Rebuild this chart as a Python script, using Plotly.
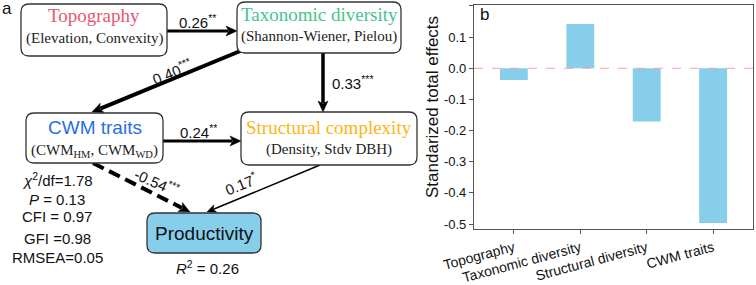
import plotly.graph_objects as go

# ---------------- data ----------------
# Panel b: standardized total effects
bar_categories = ["Topography", "Taxonomic diversity", "Structural diversity", "CWM traits"]
bar_values = [-0.038, 0.142, -0.171, -0.497]
y_tickvals = [0.2, 0.1, 0.0, -0.1, -0.2, -0.3, -0.4, -0.5]
y_ticktext = ["0.2", "0.1", "0.0", "-0.1", "-0.2", "-0.3", "-0.4", "-0.5"]

# Panel a: SEM path coefficients
path_from = ["Topography", "Taxonomic", "Taxonomic", "CWM", "CWM", "Structural"]
path_to = ["Taxonomic", "CWM", "Structural", "Structural", "Productivity", "Productivity"]
path_coef = [0.26, 0.40, 0.33, 0.24, -0.54, 0.17]
path_sig = ["**", "***", "***", "**", "***", "*"]

fit_labels = ["<i>χ</i><sup>2</sup>/df=1.78", "<i>P</i> = 0.13", "CFI = 0.97", "GFI =0.98", "RMSEA=0.05"]
r2_productivity = 0.26

W, H = 756, 285
SANS = "Liberation Sans, Arial, sans-serif"
SERIF = "Liberation Serif, Times New Roman, serif"


def px(x):
    return x / W


def py(y):
    return 1 - y / H


shapes = []
annotations = []

# ---------------- layout of diagram (pixel positions) ----------------
boxes = {
    "Topography": dict(x0=21, y0=4, x1=167, y1=56, title="Topography", tfont=SERIF, tcolor="#E8566F",
                       sub="(Elevation, Convexity)", ty=16, sy=39, fill="white"),
    "Taxonomic": dict(x0=237, y0=2, x1=401, y1=53, title="Taxonomic diversity", tfont=SERIF, tcolor="#45C48C",
                      sub="(Shannon-Wiener, Pielou)", ty=15, sy=37, fill="white"),
    "Structural": dict(x0=241, y0=112, x1=417, y1=165, title="Structural complexity", tfont=SERIF, tcolor="#FDB515",
                       sub="(Density, Stdv DBH)", ty=127, sy=149, fill="white"),
    "CWM": dict(x0=26, y0=113, x1=163, y1=163, title="CWM traits", tfont=SANS, tcolor="#2A6FE0",
                sub="(CWM<sub>HM</sub>, CWM<sub>WD</sub>)", ty=127, sy=151, fill="white"),
    "Productivity": dict(x0=147, y0=213, x1=261, y1=253, title="Productivity", tfont=SANS, tcolor="#111111",
                         sub=None, ty=233, sy=None, fill="#87CEEB"),
}

# arrow geometry: start, end, width, dash, label position, label angle, label anchor
arrow_geom = [
    dict(s=(167, 31), e=(237, 31), w=3, dash="solid", lp=(197, 21), la=0, xa="center"),
    dict(s=(250, 47), e=(92, 112), w=4, dash="solid", lp=(171, 71), la=-22, xa="center"),
    dict(s=(323, 53), e=(323, 112), w=3.5, dash="solid", lp=(330, 82), la=0, xa="left"),
    dict(s=(163, 141), e=(241, 141), w=3, dash="solid", lp=(198, 131), la=0, xa="center"),
    dict(s=(93, 163), e=(190, 212), w=4, dash="12px,6px", lp=(157, 181), la=24, xa="center"),
    dict(s=(320, 165), e=(207, 212), w=1.5, dash="solid", lp=(240, 183), la=-22, xa="center"),
]


def rounded_rect(x0, y0, x1, y1, r):
    pts = [
        ("M", [(x0 + r, y0)]),
        ("L", [(x1 - r, y0)]),
        ("Q", [(x1, y0), (x1, y0 + r)]),
        ("L", [(x1, y1 - r)]),
        ("Q", [(x1, y1), (x1 - r, y1)]),
        ("L", [(x0 + r, y1)]),
        ("Q", [(x0, y1), (x0, y1 - r)]),
        ("L", [(x0, y0 + r)]),
        ("Q", [(x0, y0), (x0 + r, y0)]),
    ]
    s = ""
    for cmd, ps in pts:
        s += cmd + " " + " ".join(f"{px(a):.5f},{py(b):.5f}" for a, b in ps) + " "
    return s + "Z"


# arrows (drawn first, boxes above)
for g, coef, sig in zip(arrow_geom, path_coef, path_sig):
    (x0, y0), (x1, y1) = g["s"], g["e"]
    dx, dy = x1 - x0, y1 - y0
    L = (dx * dx + dy * dy) ** 0.5
    ux, uy = dx / L, dy / L
    nx, ny = -uy, ux
    hl = 11 if g["w"] >= 3 else 9
    hw = 5 if g["w"] >= 3 else 4
    bx, by = x1 - ux * hl, y1 - uy * hl
    shapes.append(dict(type="line", xref="paper", yref="paper",
                       x0=px(x0), y0=py(y0), x1=px(bx + ux * 2), y1=py(by + uy * 2),
                       line=dict(color="black", width=g["w"], dash=g["dash"])))
    notch = (x1 - ux * hl * 0.75, y1 - uy * hl * 0.75)
    p = [(x1, y1), (bx + nx * hw, by + ny * hw), notch, (bx - nx * hw, by - ny * hw)]
    path = "M " + " L ".join(f"{px(a):.5f},{py(b):.5f}" for a, b in p) + " Z"
    shapes.append(dict(type="path", xref="paper", yref="paper", path=path,
                       fillcolor="black", line=dict(color="black", width=0.5)))
    annotations.append(dict(x=px(g["lp"][0]), y=py(g["lp"][1]), xref="paper", yref="paper",
                            text=f"{coef:.2f}<sup>{sig}</sup>", showarrow=False,
                            textangle=g["la"], xanchor=g["xa"], yanchor="middle",
                            font=dict(family=SANS, size=15, color="#111")))

# boxes
for key, b in boxes.items():
    shapes.append(dict(type="path", xref="paper", yref="paper",
                       path=rounded_rect(b["x0"], b["y0"], b["x1"], b["y1"], 8),
                       fillcolor=b["fill"], line=dict(color="#333333", width=1.3)))
    cx = (b["x0"] + b["x1"]) / 2
    annotations.append(dict(x=px(cx), y=py(b["ty"]), xref="paper", yref="paper", text=b["title"],
                            showarrow=False, xanchor="center", yanchor="middle",
                            font=dict(family=b["tfont"], size=19, color=b["tcolor"])))
    if b["sub"]:
        annotations.append(dict(x=px(cx), y=py(b["sy"]), xref="paper", yref="paper", text=b["sub"],
                                showarrow=False, xanchor="center", yanchor="middle",
                                font=dict(family=SERIF, size=15, color="#222")))

# fit statistics
fit_y = [179, 199, 216, 238, 257]
for t, yy in zip(fit_labels, fit_y):
    annotations.append(dict(x=px(57), y=py(yy), xref="paper", yref="paper", text=t, showarrow=False,
                            xanchor="center", yanchor="middle", font=dict(family=SANS, size=15, color="#111")))
annotations.append(dict(x=px(207), y=py(267), xref="paper", yref="paper",
                        text=f"<i>R</i><sup>2</sup> = {r2_productivity:.2f}", showarrow=False,
                        xanchor="center", yanchor="middle", font=dict(family=SANS, size=15, color="#111")))

# panel letters
annotations.append(dict(x=px(7), y=py(9), xref="paper", yref="paper", text="a", showarrow=False,
                        xanchor="center", yanchor="middle", font=dict(family=SANS, size=17, color="#111")))
annotations.append(dict(x=px(484), y=py(15), xref="paper", yref="paper", text="b", showarrow=False,
                        xanchor="center", yanchor="middle", font=dict(family=SANS, size=17, color="#111")))
# y-axis title for panel b
annotations.append(dict(x=px(432), y=py(107), xref="paper", yref="paper", text="Standarized total effects",
                        showarrow=False, textangle=-90, xanchor="center", yanchor="middle",
                        font=dict(family=SANS, size=17, color="#111")))

# zero line
shapes.append(dict(type="line", xref="x domain", yref="y", x0=0, x1=1, y0=0, y1=0,
                   line=dict(color="#FF9DA8", width=1.2, dash="dash")))

fig = go.Figure()
fig.add_trace(go.Bar(x=list(range(len(bar_categories))), y=bar_values, width=0.42,
                     marker=dict(color="#87CEEB", line=dict(width=0)), hoverinfo="skip"))

fig.update_layout(
    width=W, height=H, margin=dict(l=0, r=0, t=0, b=0, autoexpand=False),
    paper_bgcolor="white", plot_bgcolor="white", showlegend=False,
    font=dict(family=SANS, color="#111"),
    shapes=shapes, annotations=annotations,
    xaxis=dict(domain=[474 / W, 753 / W], range=[-0.6, 3.6], automargin=False,
               tickvals=list(range(len(bar_categories))), ticktext=bar_categories,
               tickangle=-15, tickfont=dict(family=SANS, size=14, color="#111"),
               showline=True, mirror=True, linecolor="#555", linewidth=1.2,
               ticks="outside", ticklen=4, tickcolor="#555", showgrid=False, zeroline=False),
    yaxis=dict(domain=[1 - 229.3 / H, 1 - 5 / H], range=[-0.517, 0.203], automargin=False,
               tickvals=y_tickvals, ticktext=y_ticktext,
               tickfont=dict(family=SANS, size=13, color="#111"),
               showline=True, mirror=True, linecolor="#555", linewidth=1.2,
               ticks="outside", ticklen=4, tickcolor="#555", showgrid=False, zeroline=False),
)

fig.write_html("out.html")
